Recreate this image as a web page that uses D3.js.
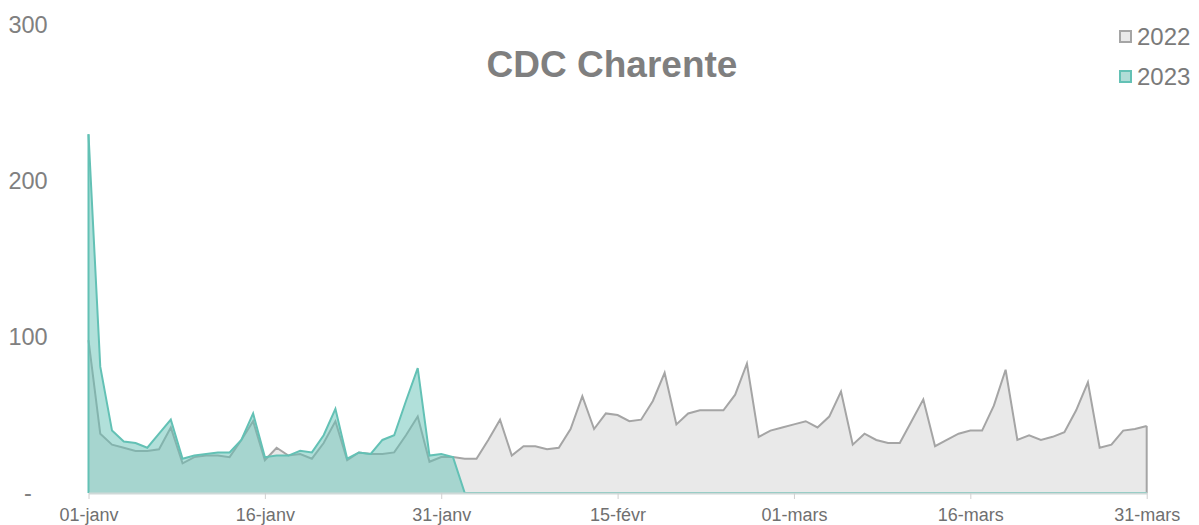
<!DOCTYPE html>
<head>
  <meta charset="utf-8">
  <script src="https://d3js.org/d3.v7.min.js"></script>
  <style>
    body { margin:0; background:#fff; }
    svg { display:block; font-family: "Liberation Sans", Arial, sans-serif; }
  </style>
</head>
<body>
  <svg width="1199" height="525"></svg>
  <script>
    // day index 0 = 01-janv ... 90 = 31-mars (29-févr included)
    var tickIdx = [0, 15, 30, 45, 60, 75, 90];
    var tickLabels = ['01-janv', '16-janv', '31-janv', '15-févr', '01-mars', '16-mars', '31-mars'];
    var seriesNames = ['2022', '2023'];

    var v2022 = [98, 38, 31, 29, 27, 27, 28, 42, 19, 23, 24, 24, 23, 34, 46, 21,
      29, 24, 25, 22, 32, 46, 21, 26, 25, 25, 26, 37, 49, 20, 23,
      23, 22, 22, 34, 47, 24, 30, 30, 28, 29, 41, 62, 41, 51, 50,
      46, 47, 59, 77, 44, 51, 53, 53, 53, 63, 83, 36, 40, 42,
      44, 46, 42, 49, 65, 31, 38, 34, 32, 32, 46, 60, 30, 34, 38,
      40, 40, 56, 79, 34, 37, 34, 36, 39, 53, 71, 29, 31, 40, 41, 43];
    var v2023 = [230, 81, 40, 33, 32, 29, 38, 47, 22, 24, 25, 26, 26, 34, 51, 23,
      24, 24, 27, 26, 37, 54, 22, 26, 25, 34, 37, 59, 80, 24, 25, 23];

    var x = d3.scaleLinear().domain([0, 90]).range([88.5, 1146.7]);
    var y = d3.scaleLinear().domain([0, 300]).range([493, 25]);

    var svg = d3.select('svg');

    // missing days after the last 2023 value sit on zero, as in the spreadsheet
    var d2022 = v2022.map((v, i) => ({i: i, v: v}));
    var d2023 = d3.range(91).map(i => ({i: i, v: i < v2023.length ? v2023[i] : 0}));

    var area = d3.area().x(d => x(d.i)).y0(y(0)).y1(d => y(d.v));
    var line = d3.line().x(d => x(d.i)).y(d => y(d.v));

    svg.append('path').datum(d2022)
      .attr('d', area).attr('fill', '#e9e9e9');
    svg.append('path').datum(d2022)
      .attr('d', line).attr('fill', 'none')
      .attr('stroke', '#a5a5a5').attr('stroke-width', 2);
    svg.append('line')
      .attr('x1', x(90)).attr('x2', x(90))
      .attr('y1', y(v2022[90])).attr('y2', y(0))
      .attr('stroke', '#a5a5a5').attr('stroke-width', 2);

    svg.append('path').datum(d2023)
      .attr('d', area).attr('fill', '#63c1b5').attr('fill-opacity', 0.5);
    svg.append('path').datum(d2023)
      .attr('d', line).attr('fill', 'none')
      .attr('stroke', '#63c1b5').attr('stroke-width', 2);
    svg.append('line')
      .attr('x1', x(0)).attr('x2', x(0))
      .attr('y1', y(v2023[0])).attr('y2', y(0))
      .attr('stroke', '#63c1b5').attr('stroke-width', 2);

    // x axis
    var xAxis = d3.axisBottom(x)
      .tickValues(tickIdx)
      .tickFormat((d, k) => tickLabels[k])
      .tickSizeInner(6).tickSizeOuter(0);
    var gx = svg.append('g')
      .attr('transform', 'translate(0,' + y(0) + ')')
      .call(xAxis);
    gx.select('.domain').attr('stroke', '#cfd9d8').attr('stroke-width', 2);
    gx.selectAll('.tick line').attr('stroke', '#d0d0d0');
    gx.selectAll('.tick text')
      .attr('fill', '#707070').attr('font-size', 18).attr('dy', '1.05em');

    // y axis
    var yAxis = d3.axisLeft(y)
      .tickValues([0, 100, 200, 300])
      .tickFormat(d => d === 0 ? '-' : d)
      .tickSize(0);
    var gy = svg.append('g')
      .attr('transform', 'translate(28,0)')
      .call(yAxis);
    gy.select('.domain').remove();
    gy.selectAll('.tick text')
      .attr('x', 0).attr('text-anchor', 'middle')
      .attr('fill', '#808080').attr('font-size', 23.5);

    // title
    svg.append('text')
      .attr('x', 612).attr('y', 77)
      .attr('text-anchor', 'middle')
      .attr('font-size', 37).attr('font-weight', 'bold')
      .attr('fill', '#7f7f7f')
      .text('CDC Charente');

    // legend
    var legFill = ['#e9e9e9', '#b0ddd7'];
    var legStroke = ['#a5a5a5', '#63c1b5'];
    var leg = svg.selectAll('.leg').data(seriesNames).enter().append('g')
      .attr('transform', (d, k) => 'translate(1120,' + (31 + k * 40) + ')');
    leg.append('rect')
      .attr('width', 11).attr('height', 11)
      .attr('fill', (d, k) => legFill[k])
      .attr('stroke', (d, k) => legStroke[k]).attr('stroke-width', 2);
    leg.append('text')
      .attr('x', 17).attr('y', 6).attr('dy', '0.35em')
      .attr('font-size', 24).attr('fill', '#7a7a7a')
      .text(d => d);
  </script>
</body>
